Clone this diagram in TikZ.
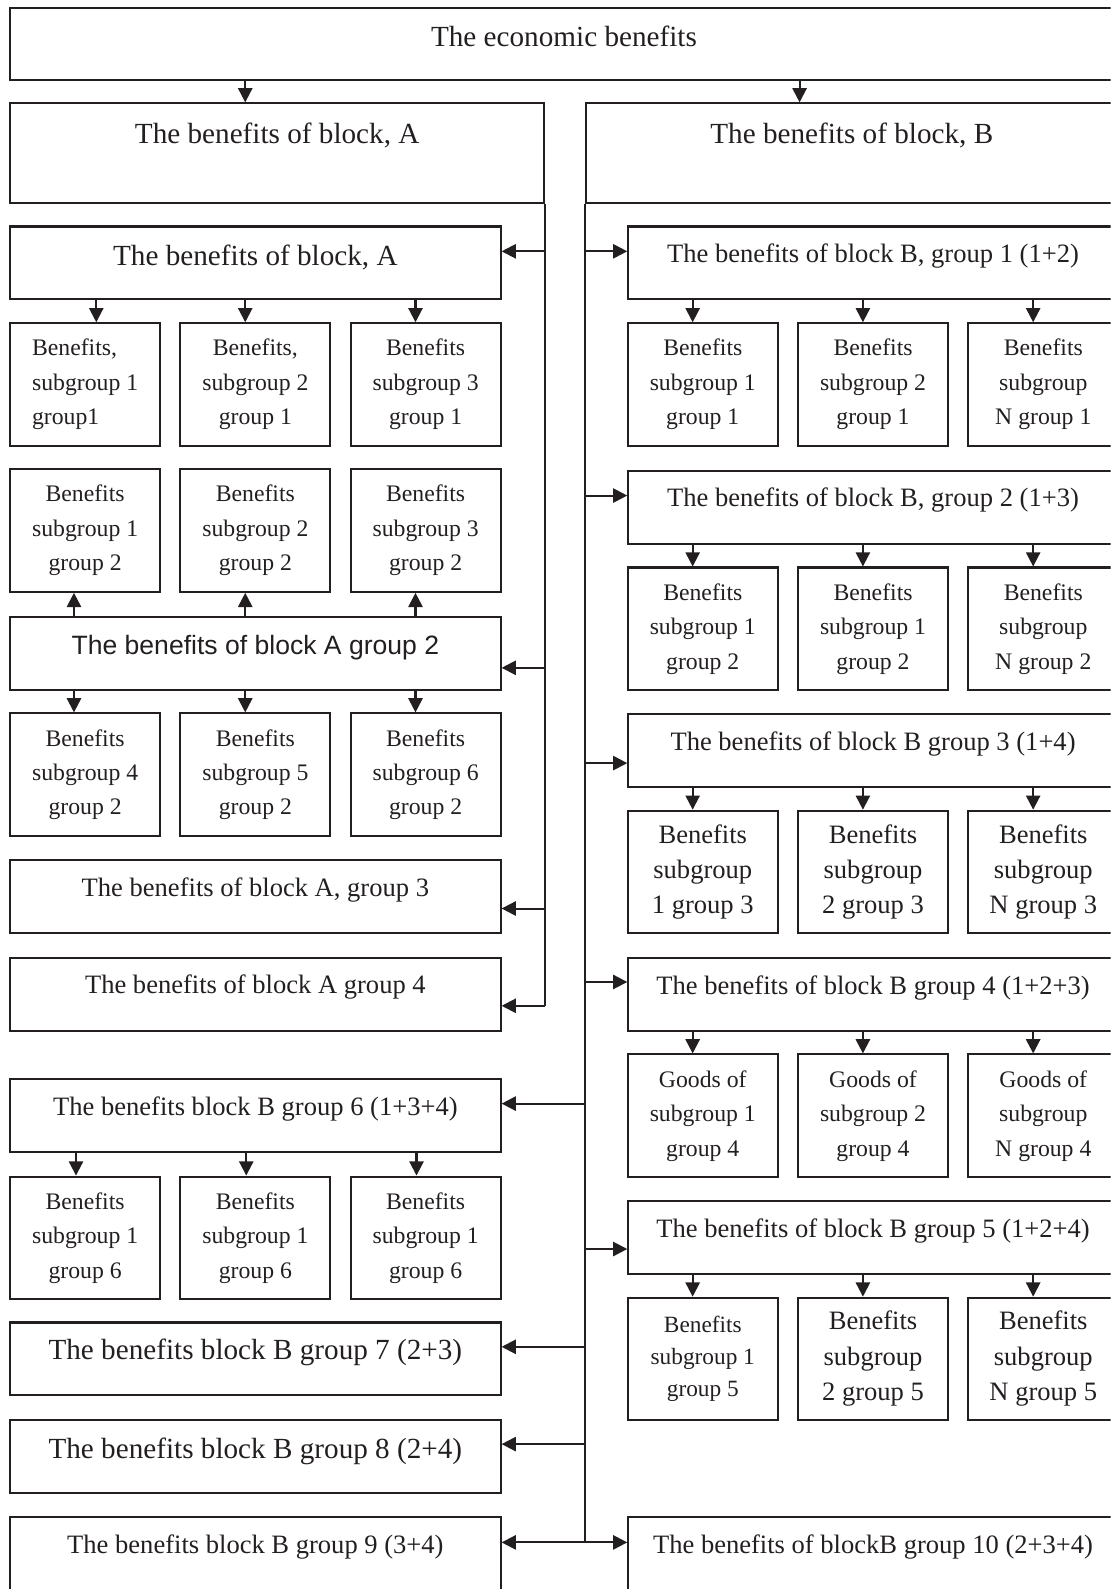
\documentclass[tikz,border=0pt]{standalone}
\usepackage{fontspec}
\setmainfont{Liberation Serif}
\newfontfamily\arialfont{Liberation Sans}
\usetikzlibrary{arrows.meta}
\definecolor{ink}{RGB}{35,31,32}

\tikzset{
  box/.style={draw=ink, line width=2pt, inner sep=0pt},
  head/.style={box, minimum width=484pt, minimum height=72pt},
  subbox/.style={box, minimum width=148pt, minimum height=121pt, align=center, text=ink,
    font=\fontsize{23.4}{34}\selectfont},
  subbig/.style={subbox, font=\fontsize{26.2}{35}\selectfont},
  bigtxt/.style={anchor=base, inner sep=0pt, text=ink, font=\fontsize{28.8}{34}\selectfont},
  midtxt/.style={anchor=base, inner sep=0pt, text=ink, font=\fontsize{26.2}{34}\selectfont},
  wire/.style={draw=ink, line width=2pt},
  arr/.style={wire, -{Triangle[length=14pt,width=14pt]}}
}

\begin{document}
\begin{tikzpicture}[x=1pt,y=-1pt]
\useasboundingbox (0,0) rectangle (1096,1568);
\clip (0,0) rectangle (1096,1568);

% top and the two blocks
\node[box, minimum width=1093pt, minimum height=71pt] (top) at (556.5,43.5) {};
\node[bigtxt] (top-t) at (556.5,46) {The economic benefits};
\node[box, minimum width=527pt, minimum height=98pt] (blkA) at (273.5,151) {};
\node[bigtxt] (blkA-t) at (273.5,141.5) {The benefits of block, A};
\node[box, minimum width=525pt, minimum height=98pt] (blkB) at (840.5,151) {};
\node[bigtxt] (blkB-t) at (840.5,141.5) {The benefits of block, B};

% left column
\node[head] (la1) at (252,259.5) {};
\node[bigtxt] (la1-t) at (252,261.5) {The benefits of block, A};
\node[head] (la2) at (252,644.5) {};
\node[midtxt, font=\arialfont\fontsize{26.2}{34}\selectfont] (la2-t) at (252,646) {The benefits of block A group 2};
\node[head] (la3) at (252,885) {};
\node[midtxt] (la3-t) at (252,885) {The benefits of block A, group 3};
\node[head] (la4) at (252,981) {};
\node[midtxt] (la4-t) at (252,980) {The benefits of block A group 4};
\node[head] (lb6) at (252,1101) {};
\node[midtxt] (lb6-t) at (252,1101) {The benefits block B group 6 (1+3+4)};
\node[head] (lb7) at (252,1341) {};
\node[bigtxt] (lb7-t) at (252,1342) {The benefits block B group 7 (2+3)};
\node[head] (lb8) at (252,1437) {};
\node[bigtxt] (lb8-t) at (252,1439) {The benefits block B group 8 (2+4)};
\node[head, minimum height=75pt] (lb9) at (252,1534.5) {};
\node[midtxt] (lb9-t) at (252,1533) {The benefits block B group 9 (3+4)};

% right column
\node[head, minimum width=483pt] (rb1) at (861.5,259.5) {};
\node[midtxt] (rb1-t) at (861.5,259.5) {The benefits of block B, group 1 (1+2)};
\node[head, minimum width=483pt] (rb2) at (861.5,500.5) {};
\node[midtxt] (rb2-t) at (861.5,500) {The benefits of block B, group 2 (1+3)};
\node[head, minimum width=483pt] (rb3) at (861.5,741) {};
\node[midtxt] (rb3-t) at (861.5,741) {The benefits of block B group 3 (1+4)};
\node[head, minimum width=483pt] (rb4) at (861.5,981) {};
\node[midtxt] (rb4-t) at (861.5,981) {The benefits of block B group 4 (1+2+3)};
\node[head, minimum width=483pt] (rb5) at (861.5,1221) {};
\node[midtxt] (rb5-t) at (861.5,1221) {The benefits of block B group 5 (1+2+4)};
\node[head, minimum width=483pt, minimum height=75pt] (rb10) at (861.5,1534.5) {};
\node[midtxt] (rb10-t) at (861.5,1533) {The benefits of blockB group 10 (2+3+4)};

% subgroups of block A
\node[subbox, align=left] (s11) at (84,379.5) {Benefits,\\subgroup 1\\group1};
\node[subbox] (s12) at (252,379.5) {Benefits,\\subgroup 2\\group 1};
\node[subbox] (s13) at (420,379.5) {Benefits\\subgroup 3\\group 1};
\node[subbox] (s21) at (84,523.5) {Benefits\\subgroup 1\\group 2};
\node[subbox] (s22) at (252,523.5) {Benefits\\subgroup 2\\group 2};
\node[subbox] (s23) at (420,523.5) {Benefits\\subgroup 3\\group 2};
\node[subbox] (s31) at (84,764.5) {Benefits\\subgroup 4\\group 2};
\node[subbox] (s32) at (252,764.5) {Benefits\\subgroup 5\\group 2};
\node[subbox] (s33) at (420,764.5) {Benefits\\subgroup 6\\group 2};
\node[subbox] (s61) at (84,1221.5) {Benefits\\subgroup 1\\group 6};
\node[subbox] (s62) at (252,1221.5) {Benefits\\subgroup 1\\group 6};
\node[subbox] (s63) at (420,1221.5) {Benefits\\subgroup 1\\group 6};

% subgroups of block B
\node[subbox] (t11) at (693.5,379.5) {Benefits\\subgroup 1\\group 1};
\node[subbox] (t12) at (861.5,379.5) {Benefits\\subgroup 2\\group 1};
\node[subbox] (t13) at (1029.5,379.5) {Benefits\\subgroup\\N group 1};
\node[subbox] (t21) at (693.5,620.5) {Benefits\\subgroup 1\\group 2};
\node[subbox] (t22) at (861.5,620.5) {Benefits\\subgroup 1\\group 2};
\node[subbox] (t23) at (1029.5,620.5) {Benefits\\subgroup\\N group 2};
\node[subbig] (t31) at (693.5,860.5) {Benefits\\subgroup\\1 group 3};
\node[subbig] (t32) at (861.5,860.5) {Benefits\\subgroup\\2 group 3};
\node[subbig] (t33) at (1029.5,860.5) {Benefits\\subgroup\\N group 3};
\node[subbox] (t41) at (693.5,1101) {Goods of\\subgroup 1\\group 4};
\node[subbox] (t42) at (861.5,1101) {Goods of\\subgroup 2\\group 4};
\node[subbox] (t43) at (1029.5,1101) {Goods of\\subgroup\\N group 4};
\node[subbox, font=\fontsize{23}{31.5}\selectfont] (t51) at (693.5,1341) {Benefits\\subgroup 1\\group 5};
\node[subbig] (t52) at (861.5,1341) {Benefits\\subgroup\\2 group 5};
\node[subbig] (t53) at (1029.5,1341) {Benefits\\subgroup\\N group 5};

% arrows from the top
\coordinate (blkA-in) at ([xshift=-31.5pt]blkA.north);
\coordinate (blkB-in) at ([xshift=-51.5pt]blkB.north);
\draw[arr] (blkA-in |- top.south) -- (blkA-in);
\draw[arr] (blkB-in |- top.south) -- (blkB-in);

% trunks and branches
\coordinate (pa1) at ([yshift=11.5pt]la1.east);
\coordinate (pa2) at ([yshift=-14.5pt]la2.east);
\coordinate (pa3) at ([yshift=-11.5pt]la3.east);
\coordinate (pa4) at ([yshift=-11.5pt]la4.east);
\coordinate (pb1) at ([yshift=11.5pt]rb1.west);
\coordinate (pb2) at ([yshift=11.5pt]rb2.west);
\coordinate (pb3) at ([yshift=-12pt]rb3.west);
\coordinate (pb4) at ([yshift=12pt]rb4.west);
\coordinate (pb5) at ([yshift=-11.5pt]rb5.west);
\coordinate (pb6) at ([yshift=12pt]lb6.east);
\coordinate (pb7) at ([yshift=12pt]lb7.east);
\coordinate (pb8) at ([yshift=12pt]lb8.east);
\coordinate (pb9) at ([yshift=12.5pt]lb9.east);
\coordinate (pb10) at ([yshift=12.5pt]rb10.west);
\draw[wire] (blkA.south east) -- (blkA.east |- pa4);
\draw[wire] (blkB.south west) -- (blkB.west |- pb10);
\foreach \p in {pa1,pa2,pa3,pa4}
  \draw[arr] (blkA.east |- \p) -- (\p);
\foreach \p in {pb1,pb2,pb3,pb4,pb5,pb6,pb7,pb8,pb9,pb10}
  \draw[arr] (blkB.west |- \p) -- (\p);

% arrows down to the subgroups
\foreach \b/\d/\h in {s11/11/la1, s12/-10/la1, s13/-10/la1,
    s31/-11/la2, s32/-10/la2, s33/-10/la2,
    s61/-9/lb6, s62/-9/lb6, s63/-9/lb6,
    t11/-10/rb1, t12/-10/rb1, t13/-10/rb1,
    t21/-10/rb2, t22/-10/rb2, t23/-10/rb2,
    t31/-10/rb3, t32/-10/rb3, t33/-10/rb3,
    t41/-10/rb4, t42/-10/rb4, t43/-10/rb4,
    t51/-10/rb5, t52/-10/rb5, t53/-10/rb5}{
  \coordinate (\b-in) at ([xshift=\d]\b.north);
  \draw[arr] (\b-in |- \h.south) -- (\b-in);
}
% arrows up from group 2
\foreach \b/\d in {s21/-11, s22/-10, s23/-10}{
  \coordinate (\b-in) at ([xshift=\d]\b.south);
  \draw[arr] (\b-in |- la2.north) -- (\b-in);
}
\end{tikzpicture}
\end{document}
